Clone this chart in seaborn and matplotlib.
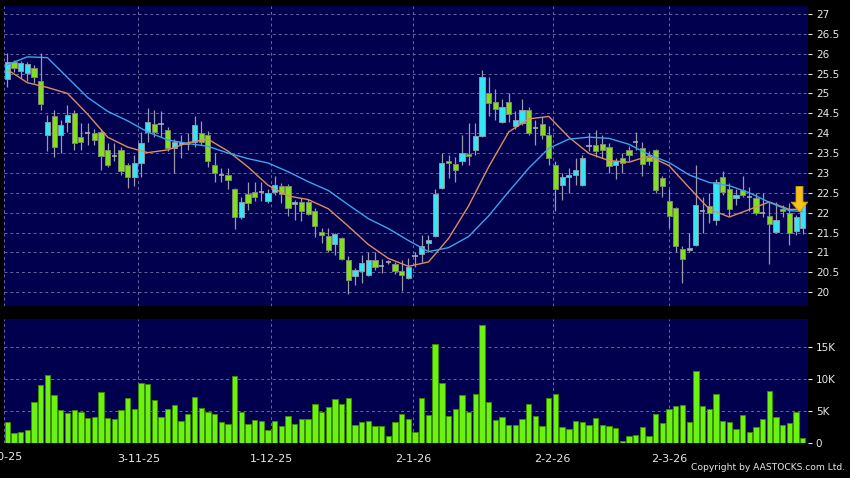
import numpy as np
import pandas as pd
import matplotlib
matplotlib.use("Agg")
import matplotlib.pyplot as plt
import seaborn as sns

# daily candles (HKD)
opens = [25.36, 25.79, 25.57, 25.52, 25.65, 25.31, 23.95, 24.44, 23.95, 24.27,
         24.52, 23.90, 24.00, 24.00, 24.04, 23.58, 23.43, 23.58, 23.20, 22.89,
         23.26, 24.04, 24.22, 24.22, 24.08, 23.62, 23.72, 23.73, 23.79, 24.00,
         23.96, 23.20, 22.96, 22.95, 22.59, 21.90, 22.47, 22.52, 22.51, 22.30,
         22.52, 22.68, 22.66, 22.21, 22.28, 22.28, 22.03, 21.51, 21.42, 21.22,
         21.37, 20.81, 20.41, 20.54, 20.44, 20.80, 20.66, 20.76, 20.71, 20.54,
         20.35, 20.91, 20.96, 21.23, 21.42, 22.62, 23.31, 23.22, 23.29, 23.48,
         23.58, 23.93, 25.01, 24.78, 24.29, 24.79, 24.19, 24.25, 24.59, 24.13,
         24.22, 23.96, 23.20, 22.70, 22.89, 22.95, 22.70, 23.68, 23.69, 23.72,
         23.66, 23.20, 23.37, 23.58, 23.79, 23.62, 23.40, 23.58, 22.87, 22.30,
         22.11, 21.08, 21.05, 21.19, 22.05, 22.17, 21.82, 22.89, 22.59, 22.36,
         22.56, 22.40, 22.36, 21.99, 21.92, 21.51, 22.09, 22.00, 21.53, 21.61]
highs = [26.01, 25.84, 25.81, 25.78, 25.71, 26.01, 24.45, 24.59, 24.33, 24.71,
         24.59, 24.25, 24.25, 24.10, 24.10, 23.75, 23.75, 23.65, 23.25, 23.45,
         24.04, 24.63, 24.59, 24.55, 24.15, 23.85, 23.95, 24.00, 24.42, 24.30,
         24.05, 23.50, 23.12, 23.12, 22.62, 22.40, 22.78, 22.78, 22.78, 22.60,
         22.91, 22.75, 22.72, 22.32, 22.36, 22.35, 22.11, 21.61, 21.61, 21.50,
         21.40, 20.90, 20.60, 20.94, 21.00, 21.00, 20.83, 20.80, 20.75, 20.81,
         20.85, 21.02, 21.44, 21.44, 22.60, 23.50, 23.45, 23.41, 23.96, 24.25,
         24.25, 25.59, 25.42, 25.11, 24.85, 25.01, 24.55, 24.85, 24.65, 24.33,
         24.40, 24.17, 23.29, 22.99, 23.12, 23.37, 23.45, 24.00, 24.08, 23.96,
         23.75, 23.37, 23.50, 23.68, 24.04, 23.79, 23.54, 23.60, 22.91, 22.59,
         22.15, 21.17, 21.50, 23.20, 22.40, 22.49, 22.84, 23.06, 22.74, 22.60,
         22.91, 22.65, 22.50, 22.50, 22.28, 22.28, 22.20, 22.24, 21.95, 22.30]
lows = [25.17, 25.55, 25.38, 25.30, 25.26, 24.59, 23.55, 23.40, 23.51, 24.04,
        23.58, 23.58, 23.70, 23.70, 23.08, 23.16, 23.30, 22.95, 22.61, 22.66,
        22.89, 23.79, 23.91, 23.91, 23.54, 22.99, 23.37, 23.58, 23.66, 23.70,
        23.16, 22.76, 22.78, 22.59, 21.58, 21.85, 22.07, 22.30, 22.29, 22.25,
        22.45, 22.24, 21.92, 21.82, 21.80, 21.95, 21.40, 21.23, 21.02, 20.94,
        20.81, 19.96, 20.18, 20.23, 20.40, 20.55, 20.49, 20.70, 20.45, 20.04,
        20.33, 20.64, 20.77, 21.00, 21.40, 22.60, 22.87, 22.76, 23.20, 23.20,
        23.45, 23.90, 24.42, 24.33, 24.25, 24.29, 24.10, 24.20, 23.95, 23.70,
        23.85, 23.20, 22.03, 22.32, 22.49, 22.70, 22.68, 23.55, 23.41, 23.37,
        23.01, 22.84, 22.99, 23.29, 23.58, 22.91, 23.20, 22.49, 22.39, 21.61,
        21.00, 20.24, 21.00, 21.15, 21.50, 21.73, 21.69, 22.45, 21.92, 22.20,
        22.40, 22.05, 21.94, 21.90, 20.71, 21.50, 21.90, 21.19, 21.45, 21.46]
closes = [25.78, 25.63, 25.76, 25.73, 25.41, 24.73, 24.28, 23.65, 24.20, 24.45,
          23.76, 23.79, 24.00, 23.83, 23.43, 23.20, 23.43, 23.06, 22.89, 23.26,
          23.75, 24.29, 24.04, 24.22, 23.62, 23.77, 23.77, 23.73, 24.21, 23.79,
          23.29, 22.99, 22.96, 22.81, 21.90, 22.28, 22.25, 22.39, 22.51, 22.49,
          22.70, 22.47, 22.11, 22.27, 22.03, 21.97, 21.67, 21.44, 21.06, 21.47,
          20.83, 20.31, 20.56, 20.73, 20.81, 20.64, 20.66, 20.76, 20.54, 20.44,
          20.64, 20.91, 21.16, 21.31, 22.47, 23.24, 23.24, 23.08, 23.50, 23.43,
          23.93, 25.42, 24.75, 24.60, 24.67, 24.48, 24.33, 24.59, 24.00, 24.13,
          23.96, 23.37, 22.59, 22.89, 22.95, 23.08, 23.37, 23.68, 23.56, 23.58,
          23.18, 23.29, 23.26, 23.45, 23.79, 23.23, 23.29, 22.57, 22.67, 21.92,
          21.17, 20.83, 21.11, 22.20, 22.05, 21.99, 22.78, 22.51, 22.09, 22.45,
          22.45, 22.40, 21.99, 21.99, 21.72, 21.82, 22.04, 21.50, 21.89, 22.24]
# volume in thousands of shares
volume_k = [3.23, 1.67, 1.77, 2.14, 6.35, 9.06, 10.6, 7.45, 5.16, 4.69,
            5.10, 4.79, 3.91, 4.11, 8.02, 3.91, 3.70, 5.16, 7.08, 5.36,
            9.43, 9.17, 6.72, 4.11, 5.26, 5.94, 3.44, 4.58, 7.24, 5.47,
            4.84, 4.53, 3.23, 2.97, 10.5, 4.84, 2.97, 3.59, 3.44, 2.14,
            3.44, 2.66, 4.17, 3.07, 3.80, 3.70, 6.09, 4.90, 5.68, 6.82,
            6.09, 7.03, 2.86, 3.28, 3.54, 2.66, 2.76, 1.15, 3.23, 4.58,
            3.75, 1.77, 7.03, 4.38, 15.47, 9.32, 4.22, 5.26, 7.50, 4.84,
            7.60, 18.44, 6.46, 3.59, 4.11, 2.86, 2.86, 3.75, 6.04, 4.27,
            2.66, 7.03, 7.71, 2.55, 2.29, 3.44, 3.23, 2.81, 3.91, 2.81,
            2.66, 2.34, 0.31, 1.09, 1.30, 2.50, 1.09, 4.48, 3.18, 5.31,
            5.73, 5.94, 3.33, 11.30, 5.73, 5.26, 7.71, 3.44, 3.28, 2.24,
            4.32, 1.77, 2.50, 3.85, 8.07, 4.11, 2.81, 3.13, 4.84, 0.78]

# moving averages, sampled every third bar plus the last one
ma_idx = list(range(0, 120, 3)) + [119]
ma_short = [25.60, 25.27, 25.15, 25.00, 24.48, 23.90, 23.65, 23.51, 23.58, 23.76,
            23.85, 23.55, 23.15, 22.69, 22.42, 22.33, 22.10, 21.66, 21.20, 20.85,
            20.65, 20.76, 21.35, 22.17, 23.15, 24.03, 24.36, 24.42, 23.90, 23.49,
            23.31, 23.27, 23.43, 23.18, 22.63, 22.09, 21.89, 22.08, 22.27, 22.08,
            22.09]
ma_long = [25.72, 25.92, 25.90, 25.40, 24.90, 24.55, 24.31, 24.03, 23.83, 23.74,
           23.67, 23.50, 23.36, 23.25, 23.03, 22.78, 22.56, 22.20, 21.85, 21.60,
           21.30, 21.02, 21.12, 21.40, 21.92, 22.53, 23.12, 23.62, 23.85, 23.90,
           23.87, 23.72, 23.46, 23.26, 22.95, 22.76, 22.68, 22.50, 22.26, 22.05,
           22.03]

date_labels = ["2-10-25", "3-11-25", "1-12-25", "2-1-26", "2-2-26", "2-3-26"]
date_pos = [-0.95, 19.6, 39.5, 60.7, 81.6, 99.0]
price_ticks = [20, 20.5, 21, 21.5, 22, 22.5, 23, 23.5, 24, 24.5, 25, 25.5, 26, 26.5, 27]
vol_ticks = [0, 5, 10, 15]
vol_labels = ["0", "5K", "10K", "15K"]

BG = "#00004e"
GRID = "#6868a0"
UP = "#38e4f2"
DOWN = "#82de1e"
TXT = "#e8e8e8"

sns.set_style("dark")
plt.rcParams["font.family"] = ["DejaVu Sans"]

df = pd.DataFrame({"o": opens, "h": highs, "l": lows, "c": closes, "v": volume_k})
df["i"] = np.arange(len(df))

fig = plt.figure(figsize=(8.5, 4.78), dpi=100, facecolor="black")
ax = fig.add_axes([0.0047, 0.3605, 0.9453, 0.627])
axv = fig.add_axes([0.0047, 0.0726, 0.9453, 0.260])

for a in (ax, axv):
    a.set_facecolor(BG)
    for s in a.spines.values():
        s.set_visible(False)
    a.yaxis.tick_right()
    a.tick_params(axis="y", colors=TXT, labelsize=7.5, length=3, width=0.8, pad=3,
                  direction="out")
    a.set_xlim(-0.5, 119.7)
    for x in date_pos[1:]:
        a.axvline(x, color=GRID, lw=0.7, ls=(0, (3, 3)), zorder=0)
    a.axvline(-0.45, color=GRID, lw=0.7, ls=(0, (3, 3)), zorder=0)

# candles
up = df[df.c > df.o]
dn = df[df.c < df.o]
flat = df[df.c == df.o]
ax.vlines(df.i, df.l, df.h, color="#9a9aaa", lw=0.9, zorder=2)
ax.bar(up.i, up.c - up.o, bottom=up.o, width=0.78, color=UP,
       edgecolor="#8a9aa8", lw=0.7, zorder=3)
ax.bar(dn.i, dn.o - dn.c, bottom=dn.c, width=0.78, color=DOWN,
       edgecolor="#7a8a6a", lw=0.7, zorder=3)
ax.hlines(flat.c, flat.i - 0.39, flat.i + 0.39, color="#a8a8b8", lw=1.2, zorder=3)

sns.lineplot(x=ma_idx, y=ma_short, ax=ax, color="#e08c5c", lw=1.0, zorder=4)
sns.lineplot(x=ma_idx, y=ma_long, ax=ax, color="#3aa4ec", lw=1.0, zorder=4)

ax.annotate("", xy=(118.5, 22.02), xytext=(118.5, 22.66),
            arrowprops=dict(facecolor="#f6c21c", edgecolor="#d89a00", lw=0.6,
                            width=5, headwidth=12, headlength=7, shrink=0),
            zorder=6)

ax.set_ylim(19.66, 27.2)
ax.set_yticks(price_ticks)
ax.set_yticklabels([f"{t:g}" for t in price_ticks])
ax.grid(True, axis="y", color=GRID, lw=0.7, ls=(0, (3, 3)))
ax.grid(False, axis="x")
ax.set_xticks([])
ax.set_xlabel("")
ax.set_ylabel("")

# volume
sns.barplot(x=df.i, y=df.v, ax=axv, native_scale=True, width=0.8,
            color="#6cf210", edgecolor="#3c8c00", lw=0.7, saturation=1, zorder=3)
axv.set_xlim(-0.5, 119.7)
axv.set_ylim(0, 19.3)
axv.set_yticks(vol_ticks)
axv.set_yticklabels(vol_labels)
axv.grid(True, axis="y", color=GRID, lw=0.7, ls=(0, (3, 3)))
axv.grid(False, axis="x")
axv.set_xticks(date_pos[1:])
axv.set_xticklabels(date_labels[1:])
axv.tick_params(axis="x", colors=TXT, labelsize=8, length=3, width=0.8, pad=5)
axv.text(date_pos[0], -0.11, date_labels[0], transform=axv.get_xaxis_transform(),
         ha="center", va="center", color=TXT, fontsize=8, clip_on=False)
axv.set_xlabel("")
axv.set_ylabel("")

fig.text(0.9945, 0.013, "Copyright by AASTOCKS.com Ltd.", ha="right", va="bottom",
         color=TXT, fontsize=6.6)

fig.savefig("out.png", dpi=100, facecolor="black")
